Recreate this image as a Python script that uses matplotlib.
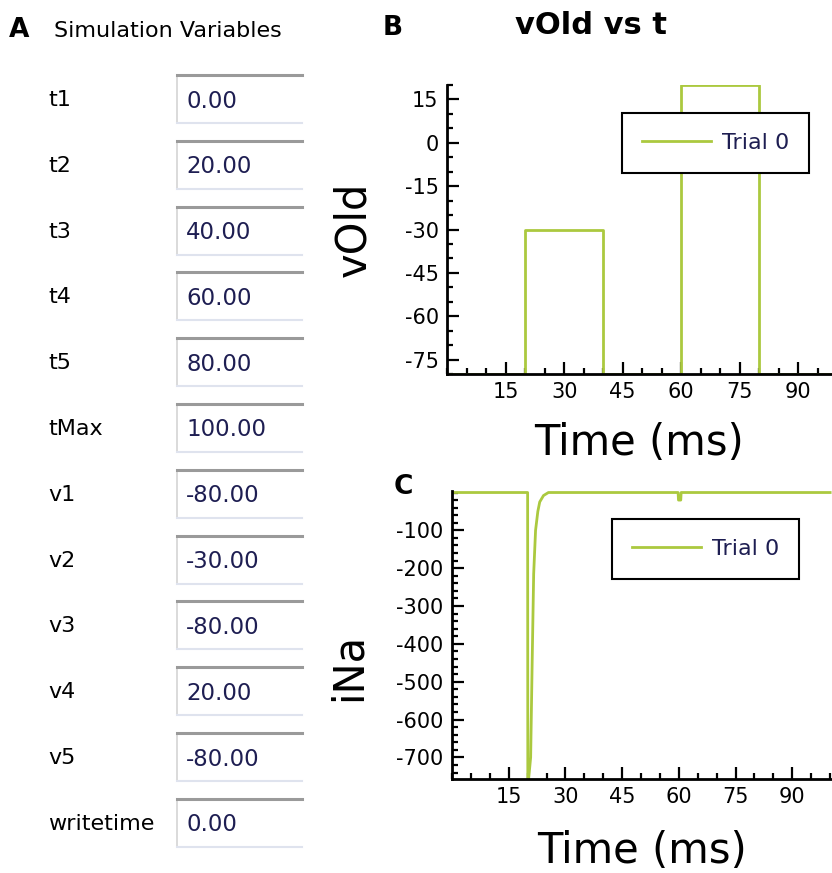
import matplotlib
matplotlib.use("Agg")
import matplotlib.pyplot as plt
from matplotlib.patches import Rectangle
from matplotlib.ticker import MultipleLocator, FixedLocator

plt.rcParams['font.family'] = ['DejaVu Sans']
plt.rcParams['axes.unicode_minus'] = False

# --- valeurs du panneau A ---
var_names = ["t1", "t2", "t3", "t4", "t5", "tMax", "v1", "v2", "v3", "v4", "v5", "writetime"]
var_values = ["0.00", "20.00", "40.00", "60.00", "80.00", "100.00",
              "-80.00", "-30.00", "-80.00", "20.00", "-80.00", "0.00"]

# --- trace vOld (panneau B) ---
t_v = [0, 20, 20, 40, 40, 60, 60, 80, 80, 100]
v_old = [-80, -80, -30, -30, -80, -80, 20, 20, -80, -80]

# --- trace iNa (panneau C) ---
t_na = [0, 20, 20.05, 20.8, 21.2, 21.6, 22.1, 22.7, 23.2, 24.2, 25.5,
        59.8, 59.9, 60.5, 60.6, 100]
i_na = [0, 0, -780, -700, -450, -215, -100, -50, -25, -8, 0,
        0, -20, -20, 0, 0]

green = "#abc93f"
navy = "#1e1e52"
W, H = 832, 873

fig = plt.figure(figsize=(W / 100, H / 100), dpi=100)

# panneau A : fond en pixels
bg = fig.add_axes([0, 0, 1, 1])
bg.set_xlim(0, W)
bg.set_ylim(H, 0)
bg.axis("off")

bg.text(9, 30, "A", fontsize=19, fontweight="bold", va="center", ha="left")
bg.text(54, 31, "Simulation Variables", fontsize=16, va="center", ha="left")

row0, step = 100, 65.8
for i in range(len(var_names)):
    yc = row0 + i * step
    bg.text(48, yc, var_names[i], fontsize=16, va="center", ha="left")
    bg.add_patch(Rectangle((177, yc - 25), 125, 48, facecolor="white",
                           edgecolor="none"))
    bg.plot([177, 177], [yc - 25, yc + 23], color="#d4d4d4", lw=1.2)
    bg.plot([177, 302], [yc + 23, yc + 23], color="#dfe3ee", lw=1.5)
    bg.plot([177, 302], [yc - 25, yc - 25], color="#9a9a9a", lw=2.2)
    bg.text(186, yc + 1, var_values[i], fontsize=16.5, color=navy,
            va="center", ha="left")


def style_axes(ax):
    for s in ["top", "right"]:
        ax.spines[s].set_visible(False)
    for s in ["left", "bottom"]:
        ax.spines[s].set_linewidth(2)
    ax.tick_params(which="major", direction="in", length=8.5, width=1.6,
                   labelsize=15, pad=6)
    ax.tick_params(which="minor", direction="in", length=4.3, width=1.6)
    ax.xaxis.set_major_locator(FixedLocator([15, 30, 45, 60, 75, 90]))
    ax.xaxis.set_minor_locator(MultipleLocator(5))


def style_legend(leg):
    leg.get_frame().set_linewidth(1.5)
    for txt in leg.get_texts():
        txt.set_color(navy)


# panneau B
axB = fig.add_axes([447 / W, 1 - 374 / H, 385 / W, 289 / H])
axB.plot(t_v, v_old, color=green, lw=2, label="Trial 0")
axB.set_xlim(0, 98.6)
axB.set_ylim(-80, 20)
style_axes(axB)
axB.yaxis.set_major_locator(MultipleLocator(15))
axB.yaxis.set_minor_locator(MultipleLocator(5))
axB.set_xlabel("Time (ms)", fontsize=30, labelpad=14)
axB.set_ylabel("vOld", fontsize=30)
axB.yaxis.set_label_coords(-0.19, 0.5)
legB = axB.legend(loc="upper left", bbox_to_anchor=(0.455, 0.903),
                  borderaxespad=0, fancybox=False, edgecolor="black",
                  fontsize=16, handlelength=3.1, handletextpad=0.5,
                  borderpad=0.9, framealpha=1)
style_legend(legB)

fig.text(383 / W, 1 - 28 / H, "B", fontsize=19, fontweight="bold",
         va="center", ha="left")
fig.text(591 / W, 1 - 26 / H, "vOld vs t", fontsize=22, fontweight="bold",
         va="center", ha="center")

# panneau C
axC = fig.add_axes([452 / W, 1 - 779 / H, 380 / W, 288 / H])
axC.plot(t_na, i_na, color=green, lw=2, label="Trial 0")
axC.set_xlim(0, 100.5)
axC.set_ylim(-757, 4)
style_axes(axC)
axC.yaxis.set_major_locator(FixedLocator([-700, -600, -500, -400, -300, -200, -100]))
axC.yaxis.set_minor_locator(MultipleLocator(20))
axC.set_xlabel("Time (ms)", fontsize=30, labelpad=16)
axC.set_ylabel("iNa", fontsize=30)
axC.yaxis.set_label_coords(-0.216, 0.39)
legC = axC.legend(loc="upper left", bbox_to_anchor=(0.421, 0.903),
                  borderaxespad=0, fancybox=False, edgecolor="black",
                  fontsize=16, handlelength=3.1, handletextpad=0.5,
                  borderpad=0.9, framealpha=1)
style_legend(legC)

fig.text(394 / W, 1 - 487 / H, "C", fontsize=19, fontweight="bold",
         va="center", ha="left")

fig.savefig("out.png", dpi=100)
